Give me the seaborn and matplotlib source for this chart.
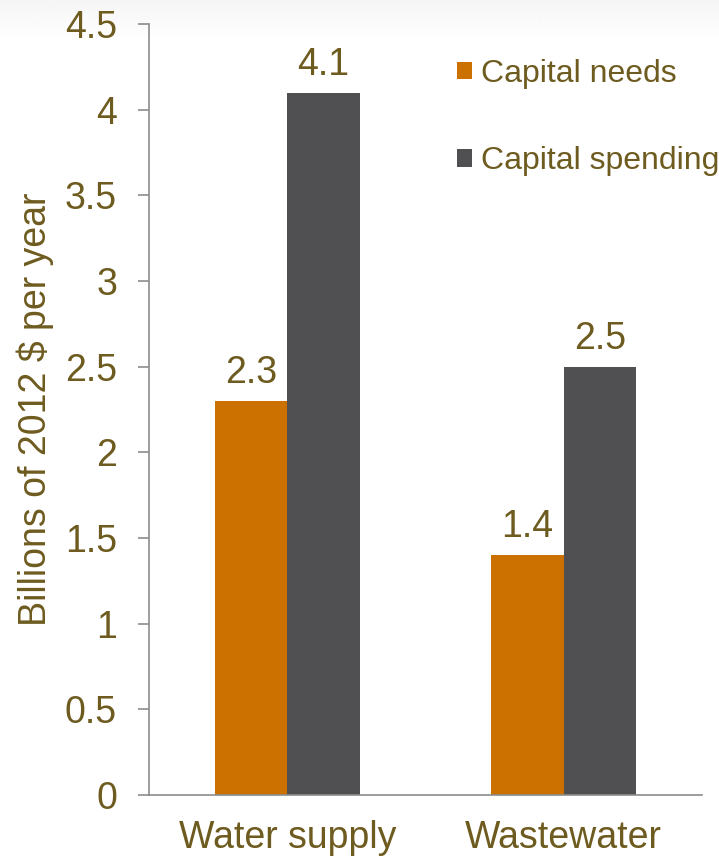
import numpy as np
import pandas as pd
import seaborn as sns
import matplotlib.pyplot as plt

categories = ['Water supply', 'Wastewater']
capital_needs = [2.3, 1.4]
capital_spending = [4.1, 2.5]
series_names = ['Capital needs', 'Capital spending']

df = pd.DataFrame({
    'category': categories * 2,
    'series': [series_names[0]] * 2 + [series_names[1]] * 2,
    'value': capital_needs + capital_spending,
})

sns.set_style('white')
plt.rcParams['font.family'] = ['Liberation Sans', 'DejaVu Sans']
txt = '#6E5B1F'
axis_col = '#8C8C8C'

fig = plt.figure(figsize=(7.19, 8.56), dpi=100)
# faint grey fade at the very top
bg = fig.add_axes([0, 0, 1, 1], zorder=-10)
grad = np.clip(np.linspace(0, 856, 856) / 40, 0, 1)
shade = 0.96 + 0.04 * grad
bg.imshow(shade.reshape(-1, 1), cmap='gray', vmin=0, vmax=1,
          aspect='auto', extent=[0, 1, 0, 1])
bg.axis('off')

ax = fig.add_axes([149 / 719, 1 - 795 / 856, (702 - 149) / 719, (795 - 24) / 856])
sns.barplot(data=df, x='category', y='value', hue='series', order=categories,
            hue_order=series_names, palette=['#CC7000', '#505052'],
            width=0.525, saturation=1, linewidth=0, ax=ax, legend=True)

for cont in ax.containers:
    ax.bar_label(cont, fmt='%.1f', padding=7, fontsize=27, color=txt)

ax.set_ylim(0, 4.5)
ax.set_xlim(-0.5, 1.5)
ax.set_yticks(np.arange(0, 4.51, 0.5))
ax.set_yticklabels(['0', '0.5', '1', '1.5', '2', '2.5', '3', '3.5', '4', '4.5'])
ax.set_xticks([0, 1])
ax.set_xticklabels(categories)
ax.set_xticks([-0.5, 0.5, 1.5], minor=True)
ax.tick_params(axis='x', which='major', length=0, pad=18, labelsize=27, labelcolor=txt)
ax.tick_params(axis='x', which='minor', length=8, width=1.2, color=axis_col, direction='out')
ax.tick_params(axis='y', length=8, width=1.2, color=axis_col, direction='out',
               left=True, pad=15, labelsize=27, labelcolor=txt)
ax.set_xlabel('')
ax.set_ylabel('Billions of 2012 $ per year', fontsize=27, color=txt, labelpad=8)
sns.despine(ax=ax)
for s in ['left', 'bottom']:
    ax.spines[s].set_color(axis_col)
    ax.spines[s].set_linewidth(1.2)
ax.patch.set_alpha(0)

leg = ax.legend(loc='upper left', bbox_to_anchor=(0.557, 0.955), frameon=False,
                fontsize=23, labelcolor=txt, handlelength=0.47, handleheight=0.47,
                handletextpad=0.28, labelspacing=1.8, borderaxespad=0, borderpad=0)

fig.savefig('out.png', dpi=100)
